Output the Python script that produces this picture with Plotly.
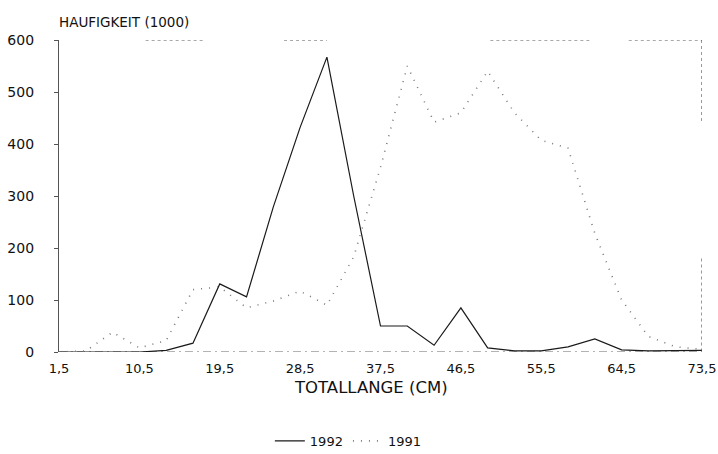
import plotly.graph_objects as go

# Total length classes (cm), one every 3 cm
lengths = [1.5, 4.5, 7.5, 10.5, 13.5, 16.5, 19.5, 22.5, 25.5, 28.5, 31.5, 34.5, 37.5,
           40.5, 43.5, 46.5, 49.5, 52.5, 55.5, 58.5, 61.5, 64.5, 67.5, 70.5, 73.5]

# Abundance in thousands
freq_1992 = [0, 0, 0, 0, 3, 17, 131, 106, 279, 432, 567, 300, 50,
             50, 13, 85, 8, 2, 2, 10, 25, 4, 2, 2, 3]
freq_1991 = [0, 2, 38, 8, 22, 120, 125, 85, 98, 117, 90, 183, 355,
             550, 442, 460, 540, 460, 407, 392, 228, 100, 30, 10, 5]

x_ticks = [1.5, 10.5, 19.5, 28.5, 37.5, 46.5, 55.5, 64.5, 73.5]
x_tick_text = [f"{v:.1f}".replace(".", ",") for v in x_ticks]
y_ticks = [0, 100, 200, 300, 400, 500, 600]

FONT = "DejaVu Sans"

fig = go.Figure()
fig.add_trace(go.Scatter(
    x=lengths, y=freq_1992, mode="lines", name="1992",
    line=dict(color="#1a1a1a", width=1.2),
))
fig.add_trace(go.Scatter(
    x=lengths, y=freq_1991, mode="lines", name="1991",
    line=dict(color="#7a7a7a", width=1.6, dash="1px,7px"),
))

# Broken frame along the top and right edges
frame_segments = [
    dict(x0=11.2, x1=17.6, y0=600, y1=600),
    dict(x0=26.7, x1=31.5, y0=600, y1=600),
    dict(x0=49.8, x1=61.2, y0=600, y1=600),
    dict(x0=65.3, x1=73.5, y0=600, y1=600),
    dict(x0=73.5, x1=73.5, y0=600, y1=440),
    dict(x0=73.5, x1=73.5, y0=180, y1=-5),
]
for seg in frame_segments:
    fig.add_shape(type="line", xref="x", yref="y", **seg,
                  line=dict(color="#555555", width=1.2, dash="3px,3px"))

# Dashed baseline
fig.add_shape(type="line", xref="x", yref="y", x0=1.5, x1=73.5, y0=0, y1=0,
              line=dict(color="#666666", width=1, dash="8px,4px,2px,4px"), layer="below")

fig.update_layout(
    width=718, height=454,
    margin=dict(l=59, r=16, t=40, b=102, autoexpand=False),
    paper_bgcolor="white", plot_bgcolor="white",
    font=dict(family=FONT, size=14, color="#111111"),
    showlegend=True,
    legend=dict(
        orientation="h", x=0.45, y=-0.285, xanchor="center", yanchor="middle",
        font=dict(family=FONT, size=13, color="#111111"),
        itemwidth=30, bgcolor="rgba(0,0,0,0)",
    ),
    xaxis=dict(
        range=[1.5, 73.5], tickvals=x_ticks, ticktext=x_tick_text,
        showgrid=False, zeroline=False, showline=False, ticks="",
        ticklabelstandoff=7, automargin=False,
        tickfont=dict(family=FONT, size=13),
    ),
    yaxis=dict(
        range=[0, 600], tickvals=y_ticks,
        showgrid=False, zeroline=False,
        showline=True, linecolor="#555555", linewidth=1.2,
        ticks="outside", ticklen=4, tickcolor="#555555",
        ticklabelstandoff=17, automargin=False,
        tickfont=dict(family=FONT, size=14),
    ),
    annotations=[
        dict(
            text="HAUFIGKEIT (1000)", xref="paper", yref="paper",
            x=0.0, y=1.0, xanchor="left", yanchor="bottom", yshift=8, xshift=-2,
            showarrow=False, font=dict(family=FONT, size=13.5, color="#111111"),
        ),
        dict(
            text="TOTALLANGE (CM)", xref="paper", yref="paper",
            x=0.5, y=0.0, xanchor="center", yanchor="top", yshift=-24, xshift=-10,
            showarrow=False, font=dict(family=FONT, size=16.5, color="#111111"),
        ),
    ],
)

fig.write_html("out.html")
